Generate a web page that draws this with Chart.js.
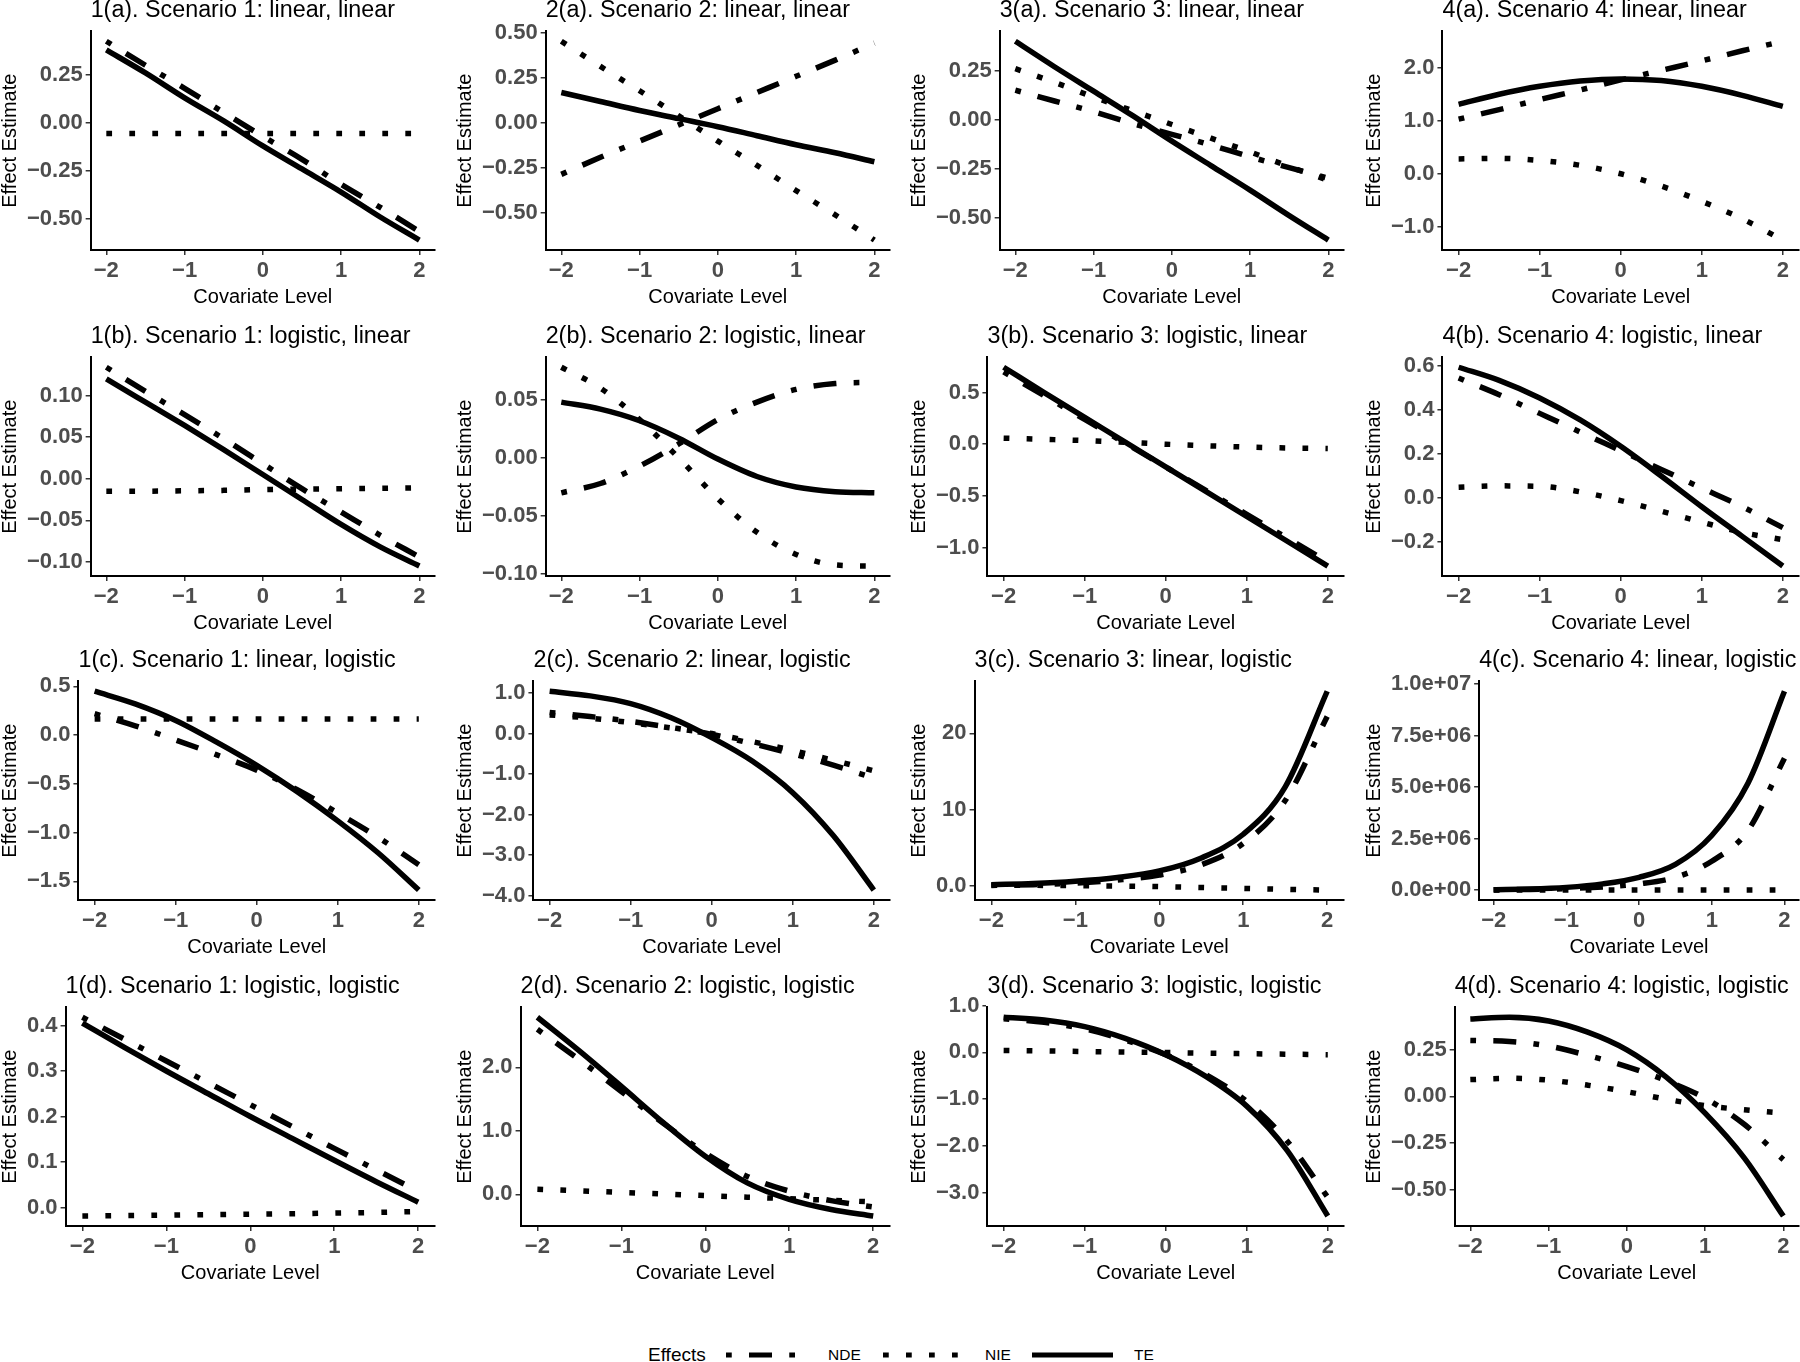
<!DOCTYPE html>
<html>
<head>
<meta charset="utf-8">
<title>Effect estimates by covariate level</title>
<script src="https://cdn.jsdelivr.net/npm/chart.js@4.4.1/dist/chart.umd.min.js"></script>
<style>
  body { margin: 0; background: #fff; }
  #page { position: relative; width: 1800px; height: 1362px; overflow: hidden; background: #fff;
          font-family: "Liberation Sans", Arial, Helvetica, sans-serif; }
  .panel { position: absolute; width: 450px; height: 322px; }
  #legend { position: absolute; left: 0; top: 1340px; width: 1800px; height: 30px; }
  #legend span { position: absolute; top: 0; line-height: 30px; color: #000; white-space: nowrap; }
  #legend svg { position: absolute; top: 0; }
</style>
</head>
<body>
<div id="page">
  <div id="legend">
    <span style="left:648px; font-size:19px;">Effects</span>
    <svg style="left:726px" width="69" height="30"><line x1="0" y1="15" x2="69" y2="15" stroke="#000" stroke-width="5" stroke-dasharray="5.75 17.25 23 17.25"/></svg>
    <span style="left:828px; font-size:15.5px;">NDE</span>
    <svg style="left:883px" width="75" height="30"><line x1="0" y1="15" x2="75" y2="15" stroke="#000" stroke-width="5" stroke-dasharray="5.75 17.25"/></svg>
    <span style="left:985px; font-size:15.5px;">NIE</span>
    <svg style="left:1032px" width="81" height="30"><line x1="0" y1="15" x2="81" y2="15" stroke="#000" stroke-width="5"/></svg>
    <span style="left:1134px; font-size:15.5px;">TE</span>
  </div>
</div>
<script>
// covariate grid shared by every panel
const covariate = [-2, -1.5, -1, -0.5, 0, 0.5, 1, 1.5, 2];
const xTickLabels = ["−2", "−1", "0", "1", "2"];
const effects = ["NDE", "NIE", "TE"];

// row a: linear, linear
const nde1a = [0.425, 0.30, 0.18, 0.054, -0.07, -0.19, -0.32, -0.44, -0.565];
const nie1a = [-0.055, -0.055, -0.055, -0.055, -0.055, -0.055, -0.055, -0.055, -0.055];
const te1a = [0.38, 0.26, 0.13, 0.01, -0.12, -0.24, -0.36, -0.49, -0.61];
const yTicks1a = ["−0.50", "−0.25", "0.00", "0.25"];

const nde2a = [-0.285, -0.19, -0.10, -0.01, 0.08, 0.17, 0.26, 0.35, 0.445];
const nie2a = [0.455, 0.315, 0.18, 0.04, -0.10, -0.235, -0.375, -0.51, -0.65];
const te2a = [0.17, 0.12, 0.07, 0.025, -0.02, -0.07, -0.12, -0.165, -0.215];
const yTicks2a = ["−0.50", "−0.25", "0.00", "0.25", "0.50"];

const nde3a = [0.15, 0.095, 0.04, -0.02, -0.075, -0.13, -0.19, -0.245, -0.30];
const nie3a = [0.26, 0.19, 0.115, 0.045, -0.025, -0.095, -0.165, -0.24, -0.31];
const te3a = [0.40, 0.27, 0.145, 0.02, -0.11, -0.235, -0.36, -0.49, -0.615];
const yTicks3a = ["−0.50", "−0.25", "0.00", "0.25"];

const nde4a = [1.03, 1.21, 1.40, 1.58, 1.77, 1.95, 2.13, 2.32, 2.50];
const nie4a = [0.28, 0.29, 0.25, 0.16, 0.0, -0.23, -0.52, -0.85, -1.25];
const te4a = [1.31, 1.50, 1.65, 1.75, 1.79, 1.76, 1.65, 1.48, 1.27];
const yTicks4a = ["−1.0", "0.0", "1.0", "2.0"];

// row b: logistic, linear
const nde1b = [0.134, 0.105, 0.077, 0.048, 0.018, -0.012, -0.04, -0.068, -0.094];
const nie1b = [-0.015, -0.015, -0.0145, -0.014, -0.013, -0.0125, -0.012, -0.0115, -0.011];
const te1b = [0.12, 0.092, 0.064, 0.035, 0.005, -0.025, -0.055, -0.082, -0.105];
const yTicks1b = ["−0.10", "−0.05", "0.00", "0.05", "0.10"];

const nde2b = [-0.030, -0.022, -0.007, 0.012, 0.033, 0.048, 0.059, 0.064, 0.065];
const nie2b = [0.078, 0.060, 0.033, 0.0, -0.035, -0.064, -0.083, -0.092, -0.093];
const te2b = [0.048, 0.042, 0.032, 0.017, -0.001, -0.016, -0.025, -0.029, -0.030];
const yTicks2b = ["−0.10", "−0.05", "0.00", "0.05"];

const nde3b = [0.70, 0.47, 0.24, 0.01, -0.22, -0.45, -0.68, -0.91, -1.14];
const nie3b = [0.058, 0.047, 0.035, 0.018, 0.0, -0.015, -0.028, -0.037, -0.042];
const te3b = [0.745, 0.50, 0.26, 0.02, -0.22, -0.46, -0.70, -0.94, -1.18];
const yTicks3b = ["−1.0", "−0.5", "0.0", "0.5"];

const nde4b = [0.546, 0.47, 0.385, 0.30, 0.215, 0.13, 0.045, -0.04, -0.135];
const nie4b = [0.049, 0.055, 0.053, 0.028, -0.012, -0.06, -0.11, -0.157, -0.19];
const te4b = [0.595, 0.535, 0.455, 0.355, 0.235, 0.10, -0.04, -0.175, -0.31];
const yTicks4b = ["−0.2", "0.0", "0.2", "0.4", "0.6"];

// row c: linear, logistic
const nde1c = [0.22, 0.095, -0.05, -0.2, -0.36, -0.56, -0.8, -1.05, -1.33];
const nie1c = [0.165, 0.165, 0.165, 0.165, 0.165, 0.165, 0.165, 0.165, 0.165];
const te1c = [0.45, 0.32, 0.15, -0.07, -0.31, -0.58, -0.88, -1.21, -1.59];
const yTicks1c = ["−1.5", "−1.0", "−0.5", "0.0", "0.5"];

const nde2c = [0.52, 0.42, 0.3, 0.15, -0.02, -0.25, -0.5, -0.78, -1.1];
const nie2c = [0.46, 0.38, 0.27, 0.14, 0.0, -0.2, -0.42, -0.66, -0.92];
const te2c = [1.045, 0.93, 0.74, 0.39, -0.10, -0.68, -1.46, -2.52, -3.865];
const yTicks2c = ["−4.0", "−3.0", "−2.0", "−1.0", "0.0", "1.0"];

const nde3c = [0.1, 0.2, 0.42, 0.8, 1.45, 2.8, 5.6, 11.2, 22.2];
const nie3c = [0.15, 0.12, 0.08, 0.03, -0.05, -0.17, -0.28, -0.4, -0.5];
const te3c = [0.2, 0.35, 0.65, 1.15, 2.0, 3.7, 6.8, 13.0, 25.5];
const yTicks3c = ["0.0", "10", "20"];

const nde4c = [10000, 30000, 70000, 150000, 300000, 620000, 1400000, 2900000, 6400000];
const nie4c = [0, 0, 0, 0, 0, 0, 0, 0, 0];
const te4c = [20000, 50000, 130000, 300000, 620000, 1250000, 2650000, 5200000, 9650000];
const yTicks4c = ["0.0e+00", "2.5e+06", "5.0e+06", "7.5e+06", "1.0e+07"];

// row d: logistic, logistic
const nde1d = [0.418, 0.37, 0.322, 0.274, 0.226, 0.178, 0.13, 0.083, 0.036];
const nie1d = [-0.0185, -0.0175, -0.0165, -0.0155, -0.0145, -0.0135, -0.012, -0.0105, -0.0085];
const te1d = [0.405, 0.352, 0.30, 0.25, 0.2, 0.152, 0.104, 0.057, 0.012];
const yTicks1d = ["0.0", "0.1", "0.2", "0.3", "0.4"];

const nde2d = [2.6, 2.12, 1.62, 1.12, 0.65, 0.28, 0.05, -0.1, -0.2];
const nie2d = [0.08, 0.055, 0.03, 0.005, -0.02, -0.045, -0.07, -0.095, -0.12];
const te2d = [2.79, 2.26, 1.7, 1.13, 0.6, 0.18, -0.08, -0.24, -0.343];
const yTicks2d = ["0.0", "1.0", "2.0"];

const nde3d = [0.72, 0.64, 0.5, 0.26, -0.05, -0.48, -1.05, -1.9, -3.1];
const nie3d = [0.04, 0.03, 0.018, 0.005, -0.005, -0.018, -0.03, -0.04, -0.05];
const te3d = [0.75, 0.69, 0.55, 0.3, -0.05, -0.52, -1.15, -2.1, -3.5];
const yTicks3d = ["−3.0", "−2.0", "−1.0", "0.0", "1.0"];

const nde4d = [0.30, 0.295, 0.27, 0.22, 0.16, 0.085, -0.01, -0.15, -0.34];
const nie4d = [0.09, 0.097, 0.087, 0.06, 0.025, -0.015, -0.05, -0.072, -0.09];
const te4d = [0.415, 0.425, 0.405, 0.345, 0.25, 0.105, -0.09, -0.33, -0.643];
const yTicks4d = ["−0.50", "−0.25", "0.00", "0.25"];

const panelTitles = [
  "1(a). Scenario 1: linear, linear", "2(a). Scenario 2: linear, linear",
  "3(a). Scenario 3: linear, linear", "4(a). Scenario 4: linear, linear",
  "1(b). Scenario 1: logistic, linear", "2(b). Scenario 2: logistic, linear",
  "3(b). Scenario 3: logistic, linear", "4(b). Scenario 4: logistic, linear",
  "1(c). Scenario 1: linear, logistic", "2(c). Scenario 2: linear, logistic",
  "3(c). Scenario 3: linear, logistic", "4(c). Scenario 4: linear, logistic",
  "1(d). Scenario 1: logistic, logistic", "2(d). Scenario 2: logistic, logistic",
  "3(d). Scenario 3: logistic, logistic", "4(d). Scenario 4: logistic, logistic",
];

// [NDE, NIE, TE, y tick labels], row by row
const panels = [
  [nde1a, nie1a, te1a, yTicks1a], [nde2a, nie2a, te2a, yTicks2a],
  [nde3a, nie3a, te3a, yTicks3a], [nde4a, nie4a, te4a, yTicks4a],
  [nde1b, nie1b, te1b, yTicks1b], [nde2b, nie2b, te2b, yTicks2b],
  [nde3b, nie3b, te3b, yTicks3b], [nde4b, nie4b, te4b, yTicks4b],
  [nde1c, nie1c, te1c, yTicks1c], [nde2c, nie2c, te2c, yTicks2c],
  [nde3c, nie3c, te3c, yTicks3c], [nde4c, nie4c, te4c, yTicks4c],
  [nde1d, nie1d, te1d, yTicks1d], [nde2d, nie2d, te2d, yTicks2d],
  [nde3d, nie3d, te3d, yTicks3d], [nde4d, nie4d, te4d, yTicks4d],
];

const FONT = "'Liberation Sans', Arial, Helvetica, sans-serif";
Chart.defaults.font.family = FONT;

// ggplot linetypes: dotdash, dotted, solid (unit = line width)
const U = 5.75;
const lineStyles = {
  NDE: { dash: [U, 3 * U, 4 * U, 3 * U], order: 3 },
  NIE: { dash: [U, 3 * U], order: 2 },
  TE: { dash: [], order: 1 },
};

const colLeft = [0, 454.5, 909, 1363.5];
const rowTop = [-1, 325, 649, 975];
const toNumber = (s) => parseFloat(s.replace("−", "-"));

const page = document.getElementById("page");

panels.forEach((p, i) => {
  const row = Math.floor(i / 4);
  const col = i % 4;
  const div = document.createElement("div");
  div.className = "panel";
  div.style.left = colLeft[col] + "px";
  div.style.top = rowTop[row] + "px";
  const canvas = document.createElement("canvas");
  div.append(canvas);
  page.append(div);

  const series = p.slice(0, 3);
  const yLabels = p[3];
  const yValues = yLabels.map(toNumber);
  const all = series.flat();
  const lo = Math.min(...all);
  const hi = Math.max(...all);
  const pad = (hi - lo) * 0.05;

  const datasets = effects.map((name, k) => ({
    label: name,
    data: covariate.map((x, j) => ({ x: x, y: series[k][j] })),
    borderColor: "#000",
    borderWidth: 5.5,
    borderDash: lineStyles[name].dash,
    borderCapStyle: "butt",
    borderJoinStyle: "round",
    pointRadius: 0,
    cubicInterpolationMode: "monotone",
    order: lineStyles[name].order,
    fill: false,
  }));

  const tickFont = { size: 22, weight: "bold", lineHeight: 1 };
  const gridOpts = { display: true, drawOnChartArea: false, drawTicks: true, tickLength: 5, color: "#333", lineWidth: 1.5 };
  const borderOpts = { display: true, color: "#000", width: 2 };

  new Chart(canvas, {
    type: "line",
    data: { datasets },
    options: {
      animation: false,
      responsive: true,
      maintainAspectRatio: false,
      layout: { padding: { left: 0, right: 15, top: 0, bottom: 14 } },
      plugins: {
        legend: { display: false },
        tooltip: { enabled: false },
        title: {
          display: true,
          text: panelTitles[i],
          align: "start",
          fullSize: false,
          color: "#000",
          font: { size: 23.3, weight: "normal", lineHeight: 1 },
          padding: { top: 0, bottom: 9 },
        },
      },
      scales: {
        x: {
          type: "linear",
          min: -2.2,
          max: 2.2,
          afterBuildTicks: (s) => { s.ticks = [-2, -1, 0, 1, 2].map((v) => ({ value: v })); },
          ticks: { callback: (v, idx) => xTickLabels[idx], color: "#4D4D4D", font: tickFont, padding: 5, maxRotation: 0, autoSkip: false },
          grid: gridOpts,
          border: borderOpts,
          title: { display: true, text: "Covariate Level", color: "#000", font: { size: 20, lineHeight: 1 }, padding: { top: 0, bottom: 0 } },
        },
        y: {
          type: "linear",
          min: lo - pad,
          max: hi + pad,
          afterBuildTicks: (s) => { s.ticks = yValues.map((v) => ({ value: v })); },
          ticks: { callback: (v, idx) => yLabels[idx], color: "#4D4D4D", font: tickFont, padding: 3, autoSkip: false },
          grid: gridOpts,
          border: borderOpts,
          title: { display: true, text: "Effect Estimate", color: "#000", font: { size: 20, lineHeight: 1 }, padding: { top: 0, bottom: 4 } },
        },
      },
    },
  });
});
</script>
</body>
</html>
